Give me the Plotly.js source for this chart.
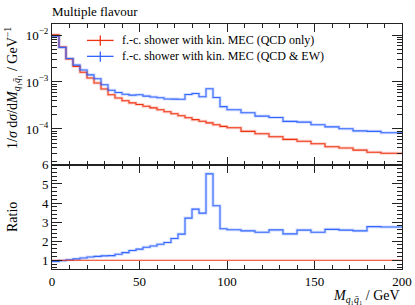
<!DOCTYPE html>
<html>
<head>
<meta charset="utf-8">
<script src="https://cdn.plot.ly/plotly-3.0.1.min.js"></script>
<style>html,body{margin:0;padding:0;background:#fff;}#chart{width:415px;height:305px;}</style>
</head>
<body>
<div id="chart"></div>
<script>
// Bin edges (GeV)
const binEdges = [0,4,8,12,16,20,24,28,32,36,40,44,48,52,56,60,64,68,72,76,80,84,88,92,96,100,
                  108,116,124,132,140,148,156,164,172,180,188,200];
// 1/sigma dsigma/dM, f.-c. shower with kin. MEC (QCD only)
const qcdOnly = [1.01e-2,5.56e-3,3.08e-3,2.15e-3,1.61e-3,1.22e-3,9.5e-4,7.1e-4,5.37e-4,4.57e-4,
                 3.98e-4,3.59e-4,3.31e-4,3.05e-4,2.82e-4,2.57e-4,2.32e-4,2.11e-4,1.91e-4,1.74e-4,
                 1.58e-4,1.46e-4,1.35e-4,1.23e-4,1.135e-4,
                 1.06e-4,8.9e-5,7.9e-5,6.85e-5,6.0e-5,5.5e-5,4.84e-5,4.2e-5,3.94e-5,3.55e-5,3.2e-5,3.04e-5];
// f.-c. shower with kin. MEC (QCD & EW)
const qcdEw = [9.42e-3,5.44e-3,3.15e-3,2.29e-3,1.80e-3,1.42e-3,1.17e-3,8.73e-4,6.65e-4,5.98e-4,
               5.50e-4,5.25e-4,5.37e-4,5.01e-4,4.79e-4,4.62e-4,4.35e-4,4.32e-4,4.30e-4,5.43e-4,
               5.69e-4,4.84e-4,7.16e-4,4.68e-4,2.99e-4,
               2.57e-4,2.21e-4,1.88e-4,1.76e-4,1.45e-4,1.40e-4,1.23e-4,1.11e-4,1.01e-4,9.1e-5,8.9e-5,8.3e-5];
// Ratio panel
const ratioQcdOnly = [1,1,1,1,1,1,1,1,1,1,1,1,1,1,1,1,1,1,1,1,1,1,1,1,1,1,1,1,1,1,1,1,1,1,1,1,1];
const ratioQcdEw = [0.93,0.98,1.02,1.07,1.12,1.17,1.20,1.23,1.24,1.31,1.40,1.51,1.58,1.68,1.75,1.84,
                    1.93,2.14,2.37,3.21,3.68,3.47,5.53,3.86,2.65,
                    2.60,2.54,2.47,2.59,2.38,2.58,2.47,2.62,2.58,2.54,2.76,2.74];
const seriesNames = ['f.-c. shower with kin. MEC (QCD only)','f.-c. shower with kin. MEC (QCD &amp; EW)'];

const RED = '#ee3311', BLUE = '#3366ff';
const RED_BAND = 'rgba(238,51,17,0.22)', BLUE_BAND = 'rgba(51,102,255,0.22)';
const FONT = '"Liberation Serif", "Times New Roman", serif';

function step(vals){ return vals.concat([vals[vals.length-1]]); }

function lineTrace(vals, color, width, xa, ya){
  return {x: binEdges, y: step(vals), type:'scatter', mode:'lines',
          line:{shape:'hv', color:color, width:width}, xaxis:xa, yaxis:ya,
          hoverinfo:'skip', showlegend:false};
}

const data = [
  lineTrace(qcdOnly, RED_BAND, 3, 'x2', 'y'),
  lineTrace(qcdEw, BLUE_BAND, 3, 'x2', 'y'),
  lineTrace(qcdOnly, RED, 1.1, 'x2', 'y'),
  lineTrace(qcdEw, BLUE, 1.1, 'x2', 'y'),
  lineTrace(ratioQcdEw, BLUE_BAND, 3, 'x', 'y2'),
  lineTrace(ratioQcdEw, BLUE, 1.1, 'x', 'y2'),
  lineTrace(ratioQcdOnly, RED, 1.1, 'x', 'y2')
];

// minor log ticks
const minorLog = [];
for (let e=-5; e<=-2; e++) for (let m=2; m<=9; m++) minorLog.push(m*Math.pow(10,e));

const splitFrac = 0.4257;
const axCol = '#222';
const TF = {family:FONT, size:13, color:'#000'};
const LF = {family:FONT, size:12, color:'#000'};
const common = {showline:true, linecolor:axCol, linewidth:1, mirror:'ticks', ticks:'inside',
                tickcolor:axCol, tickwidth:1, showgrid:false, zeroline:false, tickfont:TF};

const layout = {
  width:415, height:305,
  margin:{l:52, r:13, t:24, b:36},
  paper_bgcolor:'#fff', plot_bgcolor:'#fff',
  showlegend:false,
  font:TF,
  title:{text:'Multiple flavour', x:52/415, xanchor:'left', xref:'container',
         y:1-11/305, yanchor:'middle', yref:'container', font:TF},
  xaxis: Object.assign({}, common, {anchor:'y2', range:[0,200], tickvals:[0,50,100,150,200],
         ticklen:8, minor:{dtick:10, tick0:0, ticklen:4, ticks:'inside', tickcolor:axCol}}),
  xaxis2: Object.assign({}, common, {anchor:'y', matches:'x', range:[0,200], showticklabels:false,
         tickvals:[0,50,100,150,200], ticklen:8,
         minor:{dtick:10, tick0:0, ticklen:4, ticks:'inside', tickcolor:axCol}}),
  yaxis: Object.assign({}, common, {domain:[splitFrac,1], type:'log', range:[-4.76,-1.766],
         tickmode:'array', tickvals:[1e-4,1e-3,1e-2],
         ticktext:['10<sup>−4</sup>','10<sup>−3</sup>','10<sup>−2</sup>'], ticklen:10,
         minor:{tickmode:'array', tickvals:minorLog, ticklen:5, ticks:'inside', tickcolor:axCol}}),
  yaxis2: Object.assign({}, common, {domain:[0,splitFrac], range:[0.54,6.01],
         tickvals:[1,2,3,4,5,6], ticklen:10,
         minor:{dtick:0.2, tick0:0, ticklen:5, ticks:'inside', tickcolor:axCol}}),
  shapes:[
    {type:'line', xref:'paper', yref:'paper', x0:0.100, x1:0.176, y0:0.933, y1:0.933, line:{color:RED, width:1.3}},
    {type:'line', xref:'paper', yref:'paper', x0:0.138, x1:0.138, y0:0.911, y1:0.953, line:{color:RED, width:1.3}},
    {type:'line', xref:'paper', yref:'paper', x0:0.100, x1:0.176, y0:0.868, y1:0.868, line:{color:BLUE, width:1.3}},
    {type:'line', xref:'paper', yref:'paper', x0:0.138, x1:0.138, y0:0.846, y1:0.888, line:{color:BLUE, width:1.3}}
  ],
  annotations:[
    {text:seriesNames[0], xref:'paper', yref:'paper', x:0.195, y:0.933, xanchor:'left', yanchor:'middle',
     showarrow:false, font:LF},
    {text:seriesNames[1], xref:'paper', yref:'paper', x:0.195, y:0.868, xanchor:'left', yanchor:'middle',
     showarrow:false, font:LF},
    {text:'1/<i>σ</i> d<i>σ</i>/d<i>M</i><sub><i>q</i>₁<i>q̄</i>₁</sub> / GeV<sup>−1</sup>', xref:'paper', yref:'paper',
     x:-40/350, y:(269-88)/245, xanchor:'center', yanchor:'middle', textangle:-90, showarrow:false,
     font:{family:FONT, size:14, color:'#000'}},
    {text:'Ratio', xref:'paper', yref:'paper', x:-40/350, y:(269-217)/245, xanchor:'center', yanchor:'middle',
     textangle:-90, showarrow:false, font:{family:FONT, size:14, color:'#000'}},
    {text:'<i>M</i><sub><i>q</i>₁<i>q̄</i>₁</sub> / GeV', xref:'paper', yref:'paper', x:1, y:-27/245,
     xanchor:'right', yanchor:'middle', showarrow:false, font:{family:FONT, size:14, color:'#000'}}
  ]
};

Plotly.newPlot('chart', data, layout, {displayModeBar:false, staticPlot:true});
</script>
</body>
</html>
